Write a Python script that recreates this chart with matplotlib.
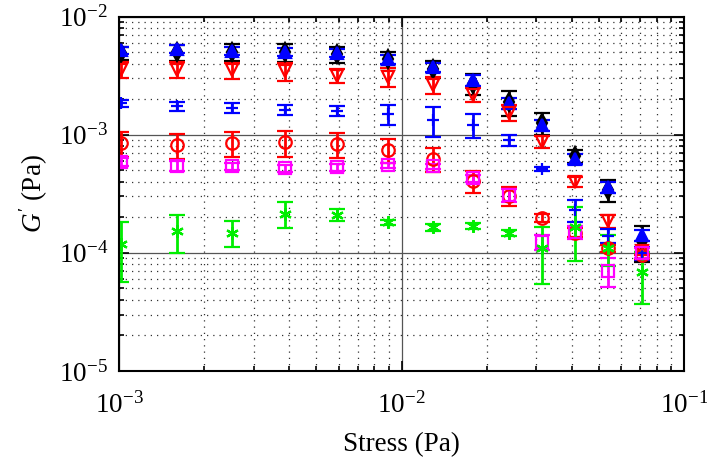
import matplotlib
matplotlib.use("Agg")
import matplotlib.pyplot as plt
from matplotlib.ticker import LogLocator, NullFormatter, FixedLocator

plt.rcParams['font.family'] = ['Liberation Serif', 'DejaVu Serif']
plt.rcParams['mathtext.fontset'] = 'custom'
plt.rcParams['mathtext.rm'] = 'Liberation Serif'
plt.rcParams['mathtext.it'] = 'Liberation Serif:italic'

stress = [1.02e-3, 1.6e-3, 2.51e-3, 3.87e-3, 5.91e-3, 8.96e-3, 1.29e-2,
          1.79e-2, 2.40e-2, 3.14e-2, 4.11e-2, 5.38e-2, 7.10e-2]

black_val = [4.90e-3, 4.96e-3, 5.02e-3, 4.98e-3, 4.77e-3, 4.33e-3, 3.60e-3,
             2.71e-3, 1.88e-3, 1.26e-3, 6.56e-4, 3.40e-4, 1.26e-4]
black_err = [0.62e-3, 0.77e-3, 0.82e-3, 0.87e-3, 0.74e-3, 0.67e-3, 0.60e-3,
             0.55e-3, 0.45e-3, 0.27e-3, 0.83e-4, 0.72e-4, 0.42e-4]

btri_val = [5.20e-3, 5.30e-3, 5.10e-3, 5.00e-3, 4.91e-3, 4.36e-3, 3.73e-3,
            2.90e-3, 1.85e-3, 1.20e-3, 6.2e-4, 3.6e-4, 1.41e-4]
btri_err = [0.35e-3, 0.4e-3, 0.4e-3, 0.4e-3, 0.4e-3, 0.4e-3, 0.35e-3,
            0.3e-3, 0.2e-3, 0.12e-3, 0.6e-4, 0.4e-4, 0.15e-4]

rtri_val = [3.56e-3, 3.56e-3, 3.53e-3, 3.43e-3, 3.16e-3, 3.10e-3, 2.64e-3,
            2.18e-3, 1.54e-3, 8.7e-4, 3.98e-4, 1.85e-4, 1.03e-4]
rtri_err = [0.55e-3, 0.55e-3, 0.55e-3, 0.60e-3, 0.43e-3, 0.57e-3, 0.43e-3,
            0.30e-3, 0.24e-3, 1.0e-4, 0.4e-4, 0.23e-4, 0.08e-4]

bplus_val = [1.84e-3, 1.74e-3, 1.69e-3, 1.62e-3, 1.59e-3, 1.49e-3, 1.33e-3,
             1.21e-3, 8.95e-4, 5.1e-4, 2.3e-4, 1.39e-4, 9.9e-5]
bplus_err = [0.13e-3, 0.15e-3, 0.17e-3, 0.16e-3, 0.15e-3, 0.29e-3, 0.38e-3,
             0.28e-3, 0.96e-4, 0.2e-4, 0.49e-4, 0.19e-4, 1.2e-5]

rcirc_val = [8.5e-4, 8.15e-4, 8.5e-4, 8.6e-4, 8.3e-4, 7.45e-4, 6.25e-4,
             4.05e-4, 3.03e-4, 1.98e-4, 1.48e-4, 1.09e-4, 9.5e-5]
rcirc_err = [2.0e-4, 1.95e-4, 1.97e-4, 2.1e-4, 2.0e-4, 1.7e-4, 1.45e-4,
             0.86e-4, 0.55e-4, 0.17e-4, 0.13e-4, 0.08e-4, 0.06e-4]

msq_val = [5.9e-4, 5.45e-4, 5.38e-4, 5.2e-4, 5.3e-4, 5.5e-4, 5.4e-4,
           4.3e-4, 3.07e-4, 1.23e-4, 1.5e-4, 7.04e-5, 1.0e-4]
msq_err = [0.45e-4, 0.5e-4, 0.35e-4, 0.35e-4, 0.35e-4, 0.3e-4, 0.3e-4,
           0.3e-4, 0.4e-4, 0.18e-4, 0.2e-4, 1.94e-5, 0.1e-4]

green_val = [1.19e-4, 1.54e-4, 1.48e-4, 2.15e-4, 2.1e-4, 1.81e-4, 1.64e-4,
             1.68e-4, 1.48e-4, 1.09e-4, 1.65e-4, 1.09e-4, 6.9e-5]
green_err = [0.62e-4, 0.54e-4, 0.37e-4, 0.53e-4, 0.25e-4, 0.1e-4, 0.1e-4,
             0.1e-4, 0.08e-4, 0.55e-4, 0.8e-4, 0.32e-4, 3.2e-5]

x_ticks = [1e-3, 1e-2, 1e-1]
x_ticklabels = [r'$10^{-3}$', r'$10^{-2}$', r'$10^{-1}$']
y_ticks = [1e-5, 1e-4, 1e-3, 1e-2]
y_ticklabels = [r'$10^{-5}$', r'$10^{-4}$', r'$10^{-3}$', r'$10^{-2}$']

fig = plt.figure(figsize=(7.07, 4.69), dpi=100)
ax = fig.add_axes([0.1683, 0.209, 0.7992, 0.7558])
ax.set_xscale('log')
ax.set_yscale('log')

common = dict(capsize=6, elinewidth=2.0, capthick=2.0, markersize=9,
              markeredgewidth=1.6, linestyle='none')

series = [
    (black_val, black_err, 'd', 'black', 'black'),
    (btri_val, btri_err, '^', 'blue', 'blue'),
    (rtri_val, rtri_err, 'v', 'red', 'none'),
    (bplus_val, bplus_err, '+', 'blue', 'blue'),
    (rcirc_val, rcirc_err, 'o', 'red', 'none'),
    (msq_val, msq_err, 's', 'magenta', 'none'),
    (green_val, green_err, (6, 2, 0), '#00ee00', '#00ee00'),
]
for vals, errs, mk, col, fc in series:
    ax.errorbar(stress, vals, yerr=errs, marker=mk, color=col, ecolor=col,
                markerfacecolor=fc, markeredgecolor=col, **common)

ax.set_xlim(1e-3, 1e-1)
ax.set_ylim(1e-5, 1e-2)

ax.xaxis.set_major_locator(FixedLocator(x_ticks))
ax.set_xticklabels(x_ticklabels)
ax.yaxis.set_major_locator(FixedLocator(y_ticks))
ax.set_yticklabels(y_ticklabels)
ax.xaxis.set_minor_locator(LogLocator(base=10, subs=range(2, 10), numticks=20))
ax.yaxis.set_minor_locator(LogLocator(base=10, subs=range(2, 10), numticks=20))
ax.xaxis.set_minor_formatter(NullFormatter())
ax.yaxis.set_minor_formatter(NullFormatter())

ax.grid(True, which='major', color='#555555', linestyle='-', linewidth=0.9)
ax.grid(True, which='minor', color='#333333', linestyle=(0, (1, 4)), linewidth=0.9)
ax.set_axisbelow(True)

ax.tick_params(which='both', direction='in', top=True, right=True,
               labelsize=19.5, width=1.2)
ax.tick_params(which='major', length=7)
ax.tick_params(which='minor', length=3.5)
ax.tick_params(axis='x', pad=15)
ax.tick_params(axis='y', pad=8)

for sp in ax.spines.values():
    sp.set_linewidth(1.5)

ax.set_xlabel('Stress (Pa)', fontsize=19.5, labelpad=10)
ax.set_ylabel(r"$G^{\prime}$ (Pa)", fontsize=19.5, labelpad=6)

fig.savefig('out.png', dpi=100)
